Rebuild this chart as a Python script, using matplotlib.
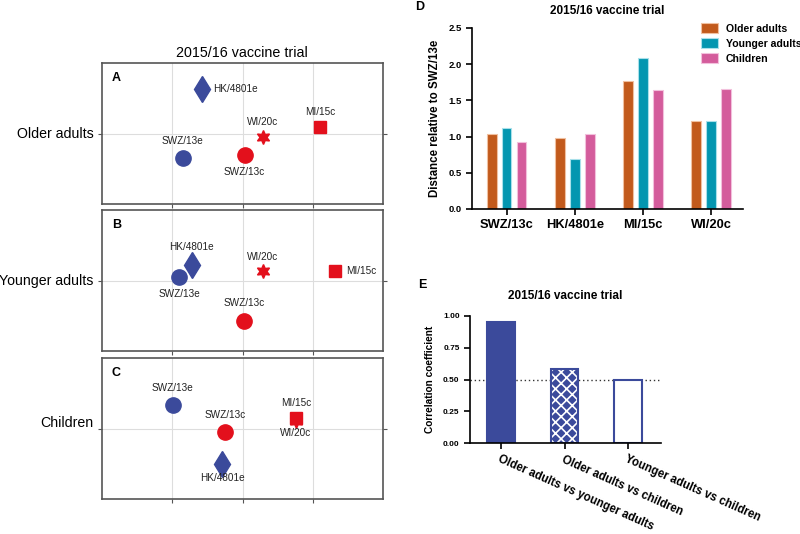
import numpy as np
import matplotlib
matplotlib.use("Agg")
from matplotlib import pyplot as plt

plt.rcParams['font.family'] = ['Liberation Sans', 'DejaVu Sans']
plt.rcParams['hatch.linewidth'] = 1.2

# antigenic cartography positions (x, y) per age group
strains = ["SWZ/13e", "HK/4801e", "SWZ/13c", "WI/20c", "MI/15c"]
older_x = [1.15, 1.42, 2.03, 2.29, 3.10]
older_y = [-0.35, 0.63, -0.30, -0.05, 0.09]
younger_x = [1.10, 1.28, 2.02, 2.29, 3.32]
younger_y = [0.05, 0.22, -0.57, 0.13, 0.13]
child_x = [1.01, 1.71, 1.75, 2.76, 2.76]
child_y = [0.33, -0.50, -0.05, 0.10, 0.15]

# panel D: distance relative to SWZ/13e
groups = ["SWZ/13c", "HK/4801e", "MI/15c", "WI/20c"]
dist_older = [1.03, 0.98, 1.77, 1.21]
dist_younger = [1.12, 0.69, 2.08, 1.21]
dist_child = [0.92, 1.04, 1.65, 1.66]

# panel E: correlation
pairs = ["Older adults vs younger adults", "Older adults vs children", "Younger adults vs children"]
corr = [0.955, 0.58, 0.495]

blue = "#3b4a9b"
red = "#e3101c"
markers = ["o", "d", "o", "*", "s"]
colors = [blue, blue, red, red, red]
msize = [11, 13, 11, 10, 9]

fig = plt.figure(figsize=(8, 5.34), dpi=100)

def ax_px(l, t, r, b):
    return fig.add_axes([l/800, 1-b/534, (r-l)/800, (b-t)/534])

# label offsets (points) and alignment per panel
offs_A = [((0, 9), 'center', 'bottom'), ((8, 0), 'left', 'center'), ((0, -9), 'center', 'top'),
          ((0, 7), 'center', 'bottom'), ((0, 7), 'center', 'bottom')]
offs_B = [((0, -9), 'center', 'top'), ((0, 9), 'center', 'bottom'), ((0, 9), 'center', 'bottom'),
          ((0, 7), 'center', 'bottom'), ((8, 0), 'left', 'center')]
offs_C = [((0, 9), 'center', 'bottom'), ((0, -7), 'center', 'top'), ((0, 9), 'center', 'bottom'),
          ((0, -5), 'center', 'top'), ((0, 7), 'center', 'bottom')]

panels = [(63, 204, older_x, older_y, offs_A, "A", "Older adults"),
          (210, 351, younger_x, younger_y, offs_B, "B", "Younger adults"),
          (358, 499, child_x, child_y, offs_C, "C", "Children")]

for t, b, xs, ys, offs, letter, name in panels:
    ax = ax_px(102, t, 383, b)
    ax.set_xlim(0, 4)
    ax.set_ylim(-1, 1)
    for gx in [1, 2, 3]:
        ax.axvline(gx, color="#dddddd", lw=0.8, zorder=0)
    ax.axhline(0, color="#dddddd", lw=0.8, zorder=0)
    ax.set_xticks([1, 2, 3])
    ax.set_yticks([0])
    ax.tick_params(direction='out', length=3, width=0.8, color="#555555",
                   labelbottom=False, labelleft=False, right=True)
    for s in ax.spines.values():
        s.set_color("#555555")
        s.set_linewidth(1.2)
    order = [0, 1, 2, 3, 4]
    for i in order:
        m = markers[i]
        if m == "*":
            m = (6, 1, 0)
        ax.plot(xs[i], ys[i], marker=m, color=colors[i], markersize=msize[i], ls='none', zorder=3)
        (dx, dy), ha, va = offs[i]
        ax.annotate(strains[i], (xs[i], ys[i]), xytext=(dx, dy), textcoords='offset points',
                    ha=ha, va=va, fontsize=7.2, color="#222222")
    ax.text(0.035, 0.87, letter, transform=ax.transAxes, fontsize=9, fontweight='bold')
    ax.text(-0.03, 0.5 if letter != "C" else 0.54, name, transform=ax.transAxes,
            ha='right', va='center', fontsize=10.2)

fig.text(242/800, 1-53/534, "2015/16 vaccine trial", ha='center', va='center', fontsize=10.3)

# panel D
axd = ax_px(472, 28, 743, 209)
xg = np.arange(len(groups))
bw = 0.14
sp = 0.22
axd.bar(xg - sp, dist_older, bw, color="#c25a1c", edgecolor="#f0c0a0", lw=0.8, label="Older adults")
axd.bar(xg, dist_younger, bw, color="#0396b0", edgecolor="#a8e0ea", lw=0.8, label="Younger adults")
axd.bar(xg + sp, dist_child, bw, color="#d45c9c", edgecolor="#f2c0dc", lw=0.8, label="Children")
axd.set_xlim(-0.51, 3.47)
axd.set_ylim(0, 2.5)
axd.set_yticks([0, 0.5, 1.0, 1.5, 2.0, 2.5])
axd.set_yticklabels(["0.0", "0.5", "1.0", "1.5", "2.0", "2.5"])
axd.set_xticks(xg)
axd.set_xticklabels(groups, fontsize=9.3, fontweight='bold')
for lab in axd.get_yticklabels():
    lab.set_fontsize(6.8)
    lab.set_fontweight('bold')
axd.tick_params(direction='out', length=4, width=1.2)
for s in ["top", "right"]:
    axd.spines[s].set_visible(False)
for s in ["left", "bottom"]:
    axd.spines[s].set_linewidth(1.2)
axd.set_ylabel("Distance relative to SWZ/13e", fontsize=8.3, fontweight='bold', labelpad=5)
axd.set_title("2015/16 vaccine trial", fontsize=8.5, fontweight='bold', pad=10)
axd.legend(loc='upper left', bbox_to_anchor=(697/800, 1-19/534), bbox_transform=fig.transFigure,
           frameon=False, prop={'size': 7.6, 'weight': 'bold'}, handlelength=1.6, handleheight=1.0,
           borderaxespad=0, labelspacing=0.45, handletextpad=0.7)
fig.text(415/800, 1-7/534, "D", fontsize=9, fontweight='bold', va='center')

# panel E
axe = ax_px(470, 316, 661, 443)
xe = np.arange(len(pairs))
bars = axe.bar(xe, corr, 0.43, color=[blue, blue, "white"], edgecolor=[blue, "white", blue], lw=1.5)
bars[1].set_hatch("xxx")
bars[1].set_linewidth(0)
axe.bar(xe[1], corr[1], 0.43, color='none', edgecolor=blue, lw=1.5)
axe.axhline(0.5, color="#333333", ls=(0, (1, 2)), lw=1.0, zorder=0)
axe.set_xlim(-0.49, 2.52)
axe.set_ylim(0, 1)
axe.set_yticks([0, 0.25, 0.5, 0.75, 1.0])
axe.set_yticklabels(["0.00", "0.25", "0.50", "0.75", "1.00"])
for lab in axe.get_yticklabels():
    lab.set_fontsize(6)
    lab.set_fontweight('bold')
axe.set_xticks(xe)
axe.set_xticklabels(pairs, rotation=-24, ha='left', va='top', rotation_mode='anchor',
                    fontsize=8.3, fontweight='bold')
axe.tick_params(direction='out', length=4, width=1.2)
for s in ["top", "right"]:
    axe.spines[s].set_visible(False)
for s in ["left", "bottom"]:
    axe.spines[s].set_linewidth(1.2)
axe.set_ylabel("Correlation coefficient", fontsize=7.3, fontweight='bold', labelpad=6)
axe.set_title("2015/16 vaccine trial", fontsize=8.5, fontweight='bold', pad=12)
fig.text(418/800, 1-285/534, "E", fontsize=9, fontweight='bold', va='center')

fig.savefig("out.png", dpi=100, facecolor="white")
